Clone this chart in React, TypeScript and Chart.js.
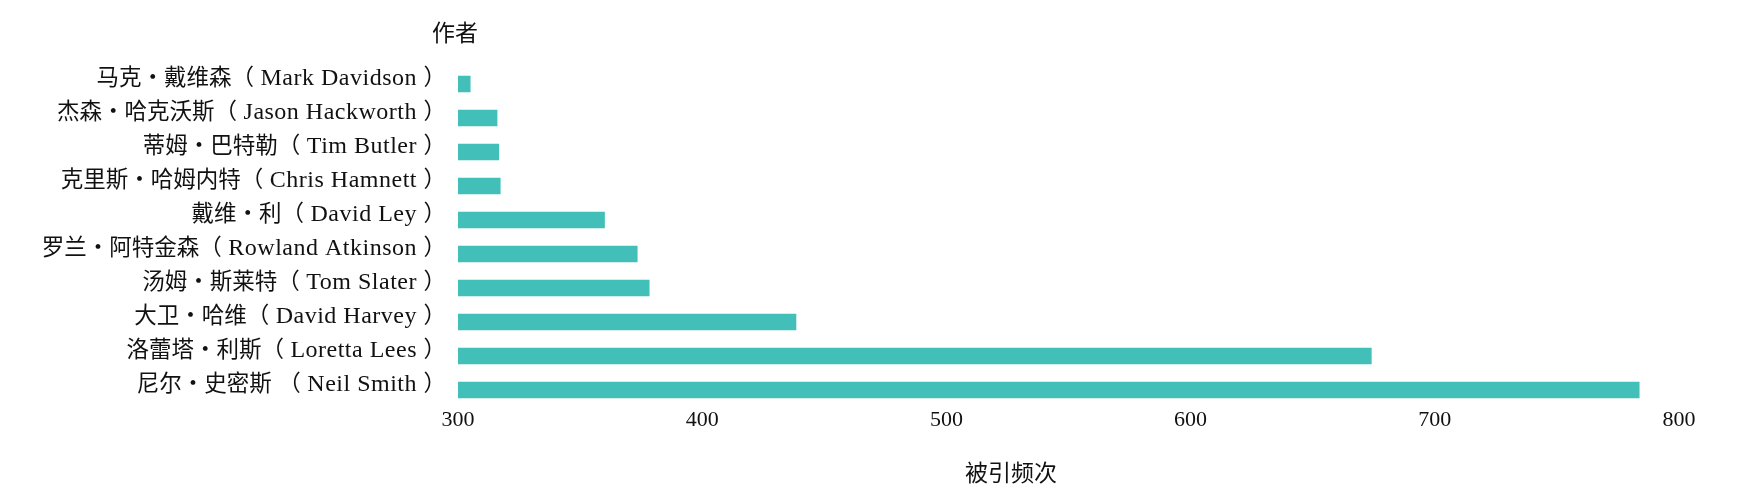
import React, { useEffect, useRef } from "react";
import { Chart, registerables } from "chart.js";

Chart.register(...registerables);

const authors: string[] = [
  "马克・戴维森（ Mark Davidson ）",
  "杰森・哈克沃斯（ Jason Hackworth ）",
  "蒂姆・巴特勒（ Tim Butler ）",
  "克里斯・哈姆内特（ Chris Hamnett ）",
  "戴维・利（ David Ley ）",
  "罗兰・阿特金森（ Rowland Atkinson ）",
  "汤姆・斯莱特（ Tom Slater ）",
  "大卫・哈维（ David Harvey ）",
  "洛蕾塔・利斯（ Loretta Lees ）",
  "尼尔・史密斯 （ Neil Smith ）",
];

const citations: number[] = [305, 316, 316.7, 317.3, 360, 373.4, 378.3, 438.4, 674, 783.7];

const xTicks: number[] = [300, 400, 500, 600, 700, 800];

const yAxisTitle = "作者";
const xAxisTitle = "被引频次";

const LATIN_FONT = '"Liberation Serif", "Times New Roman", serif';
const CJK_FONT = '"Noto Sans CJK SC", "Noto Sans CJK TC", sans-serif';
const CJK_RE = /[\u3000-\u9fff\uff00-\uffef]/;

function splitRuns(text: string): { cjk: boolean; s: string }[] {
  const runs: { cjk: boolean; s: string }[] = [];
  for (const ch of Array.from(text)) {
    const cjk = CJK_RE.test(ch);
    const last = runs[runs.length - 1];
    if (last && last.cjk === cjk) last.s += ch;
    else runs.push({ cjk, s: ch });
  }
  return runs;
}

function setRunFont(ctx: any, cjk: boolean) {
  if (cjk) {
    ctx.font = `22.5px ${CJK_FONT}`;
    ctx.letterSpacing = "0px";
  } else {
    ctx.font = `24px ${LATIN_FONT}`;
    ctx.letterSpacing = "0.5px";
  }
}

const labelsAndTitlesPlugin = {
  id: "labelsAndTitles",
  afterDraw(chart: any) {
    const { ctx, chartArea } = chart;
    const yScale = chart.scales.y;
    ctx.save();
    ctx.fillStyle = "#111";
    ctx.textBaseline = "alphabetic";
    ctx.textAlign = "left";
    const rightEdge = chartArea.left - 12;
    yScale.ticks.forEach((_t: any, i: number) => {
      const label = String(chart.data.labels[i]);
      const y = yScale.getPixelForTick(i) + 1;
      const runs = splitRuns(label);
      let total = 0;
      const widths = runs.map((r) => {
        setRunFont(ctx, r.cjk);
        const w = ctx.measureText(r.s).width;
        total += w;
        return w;
      });
      let x = rightEdge - total;
      runs.forEach((r, k) => {
        setRunFont(ctx, r.cjk);
        ctx.fillText(r.s, x, y);
        x += widths[k];
      });
    });
    ctx.letterSpacing = "0px";
    ctx.font = `23px ${CJK_FONT}`;
    ctx.textAlign = "center";
    ctx.textBaseline = "middle";
    ctx.fillText(yAxisTitle, chartArea.left - 3, 32);
    ctx.fillText(xAxisTitle, chartArea.left + chartArea.width * 0.453, chartArea.bottom + 65);
    ctx.restore();
  },
};

export default function App() {
  const canvasRef = useRef<HTMLCanvasElement | null>(null);

  useEffect(() => {
    document.body.style.margin = "0";
    const canvas = canvasRef.current;
    if (!canvas) return;
    const chart = new Chart(canvas, {
      type: "bar",
      data: {
        labels: authors,
        datasets: [
          {
            data: citations,
            backgroundColor: "#42bfb9",
            barThickness: 16,
          },
        ],
      },
      options: {
        indexAxis: "y",
        animation: false,
        responsive: true,
        maintainAspectRatio: false,
        layout: { padding: { top: 67, right: 78, left: 0, bottom: 0 } },
        plugins: {
          legend: { display: false },
          tooltip: { enabled: false },
          title: { display: false },
        },
        scales: {
          x: {
            type: "linear",
            min: xTicks[0],
            max: xTicks[xTicks.length - 1],
            afterBuildTicks: (scale: any) => {
              scale.ticks = xTicks.map((v) => ({ value: v }));
            },
            afterFit: (scale: any) => {
              scale.height = 94;
            },
            grid: { display: false, drawTicks: false },
            border: { display: false },
            ticks: {
              color: "#111",
              padding: 0,
              maxRotation: 0,
              font: { family: LATIN_FONT, size: 22 },
            },
          },
          y: {
            type: "category",
            afterFit: (scale: any) => {
              scale.width = 458;
            },
            grid: { display: false, drawTicks: false },
            border: { display: false },
            ticks: { display: false, autoSkip: false },
          },
        },
      },
      plugins: [labelsAndTitlesPlugin],
    });
    return () => chart.destroy();
  }, []);

  return (
    <div style={{ width: "1757px", height: "501px", position: "relative" }}>
      <canvas ref={canvasRef} />
    </div>
  );
}
